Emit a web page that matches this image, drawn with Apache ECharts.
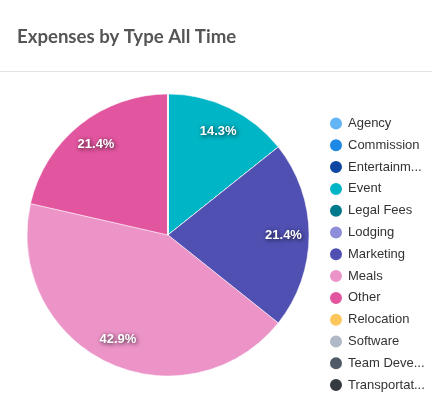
<!DOCTYPE html>
<html>
<head>
<meta charset="utf-8">
<script src="https://cdn.jsdelivr.net/npm/echarts@6/dist/echarts.min.js"></script>
<style>
  html, body { margin: 0; padding: 0; background: #fff; }
  #chart { width: 432px; height: 399px; }
</style>
</head>
<body>
<div id="chart"></div>
<script>
// expense types, in legend order
const categories = ['Agency', 'Commission', 'Entertainment', 'Event', 'Legal Fees', 'Lodging',
  'Marketing', 'Meals', 'Other', 'Relocation', 'Software', 'Team Development', 'Transportation'];
const amounts = [0, 0, 0, 2, 0, 0, 3, 6, 3, 0, 0, 0, 0];
const palette = ['#64b5f6', '#1e88e5', '#0d47a1', '#00b5c5', '#00798c', '#8e8ed8',
  '#4f50b1', '#ec93c8', '#e2559f', '#fcc65d', '#b0bac6', '#4f5a66', '#343a40'];

const chart = echarts.init(document.getElementById('chart'));

const allData = categories.map((name, i) => ({ name, value: amounts[i] }));
const nonZero = allData.filter(d => d.value > 0);

chart.setOption({
  color: palette,
  animation: false,
  title: {
    text: 'Expenses by Type All Time',
    left: 12,
    top: 22,
    textStyle: { fontFamily: 'Lato', fontWeight: 'bold', fontSize: 18.6, color: '#555' }
  },
  graphic: [{
    type: 'line',
    shape: { x1: 0, y1: 71.5, x2: 432, y2: 71.5 },
    style: { stroke: '#e3e3e3', lineWidth: 1 }
  }],
  legend: {
    orient: 'vertical',
    left: 323,
    top: 110.5,
    icon: 'circle',
    itemWidth: 14,
    itemHeight: 14,
    itemGap: 5.8,
    data: categories,
    textStyle: {
      fontFamily: 'Liberation Sans',
      fontSize: 13,
      color: '#333',
      width: 78.3,
      overflow: 'truncate',
      ellipsis: '...'
    }
  },
  series: [
    {
      type: 'pie',
      center: [168, 235],
      radius: 141,
      startAngle: 90,
      data: allData,
      label: { show: false },
      labelLine: { show: false },
      itemStyle: { borderColor: '#fff', borderWidth: 0.5 }
    },
    {
      // label ring: puts the percentages out toward the rim
      type: 'pie',
      silent: true,
      center: [168, 235],
      radius: [84, 141],
      startAngle: 90,
      data: nonZero,
      itemStyle: { color: 'rgba(0,0,0,0)' },
      label: {
        position: 'inside',
        formatter: p => p.percent.toFixed(1) + '%',
        color: '#fff',
        fontFamily: 'Liberation Sans',
        fontWeight: 'bold',
        fontSize: 13,
        textShadowColor: 'rgba(0,0,0,0.8)',
        textShadowBlur: 4,
        textShadowOffsetX: 1,
        textShadowOffsetY: 1
      },
      labelLine: { show: false }
    }
  ]
});
</script>
</body>
</html>
